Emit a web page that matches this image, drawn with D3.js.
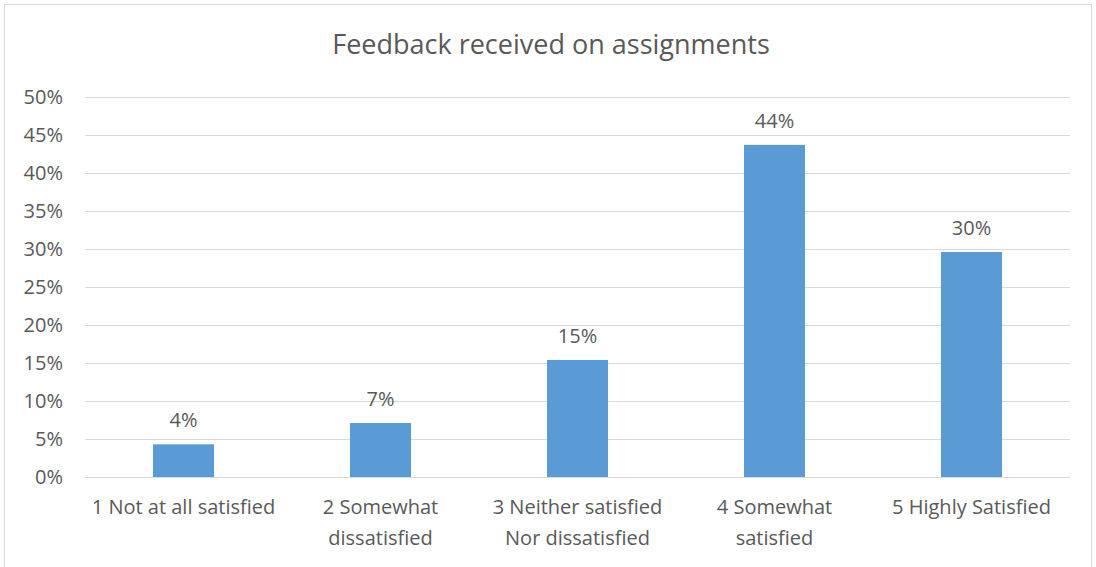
<!DOCTYPE html>
<html>
<head>
<meta charset="utf-8">
<script src="https://cdn.jsdelivr.net/npm/d3@7"></script>
<style>
  body { margin: 0; background: #fff; }
  svg text { font-family: "Open Sans", "Liberation Sans", sans-serif; fill: #595959; }
</style>
</head>
<body>
<div id="chart"></div>
<script>
var categories = ["1 Not at all satisfied", "2 Somewhat dissatisfied", "3 Neither satisfied Nor dissatisfied", "4 Somewhat satisfied", "5 Highly Satisfied"];
var categoryLines = [["1 Not at all satisfied"], ["2 Somewhat", "dissatisfied"], ["3 Neither satisfied", "Nor dissatisfied"], ["4 Somewhat", "satisfied"], ["5 Highly Satisfied"]];
var values = [0.043, 0.071, 0.154, 0.437, 0.296];
var yTicks = [0, 0.05, 0.10, 0.15, 0.20, 0.25, 0.30, 0.35, 0.40, 0.45, 0.50];
var title = "Feedback received on assignments";

var W = 1096, H = 567;
var margin = {top: 97, right: 26, bottom: 90, left: 85},
    width = W - margin.left - margin.right,
    height = H - margin.top - margin.bottom;

var svg = d3.select("#chart").append("svg")
    .attr("width", W)
    .attr("height", H);

// chart border
svg.append("rect")
    .attr("x", 4.5).attr("y", 4.5)
    .attr("width", W - 9).attr("height", H)
    .attr("fill", "none")
    .attr("stroke", "#d9d9d9");

svg.append("text")
    .attr("x", W / 2 + 3)
    .attr("y", 54)
    .attr("text-anchor", "middle")
    .style("font-size", "27px")
    .text(title);

var g = svg.append("g")
    .attr("transform", "translate(" + margin.left + "," + margin.top + ")");

var x = d3.scaleBand().domain(categories).range([0, width]).paddingInner(0.69).paddingOuter(0.345);
var y = d3.scaleLinear().domain([0, 0.5]).range([height, 0]);

// gridlines
g.append("g")
    .attr("class", "grid")
    .call(d3.axisLeft(y).tickValues(yTicks).tickSize(-width).tickFormat(""))
    .call(function(s) { s.select(".domain").remove(); })
    .selectAll("line")
    .attr("stroke", "#d9d9d9")
    .attr("stroke-width", 1.2);

// y labels
g.append("g")
    .call(d3.axisLeft(y).tickValues(yTicks).tickSize(0).tickPadding(22).tickFormat(d3.format(".0%")))
    .call(function(s) { s.select(".domain").remove(); })
    .selectAll("text")
    .style("font-size", "20px");

// bars
g.selectAll(".bar")
    .data(values)
  .enter().append("rect")
    .attr("class", "bar")
    .attr("x", function(d, i) { return x(categories[i]); })
    .attr("width", x.bandwidth())
    .attr("y", function(d) { return y(d); })
    .attr("height", function(d) { return height - y(d); })
    .attr("fill", "#5b9bd5");

// value labels
g.selectAll(".val")
    .data(values)
  .enter().append("text")
    .attr("class", "val")
    .attr("x", function(d, i) { return x(categories[i]) + x.bandwidth() / 2; })
    .attr("y", function(d) { return y(d) - 17; })
    .attr("text-anchor", "middle")
    .style("font-size", "20px")
    .text(function(d) { return d3.format(".0%")(d); });

// x axis
g.append("g")
    .attr("transform", "translate(0," + height + ")")
    .call(d3.axisBottom(x).tickSize(0).tickFormat(""))
    .call(function(s) { s.select(".domain").remove(); });

var xl = g.selectAll(".xlab")
    .data(categoryLines)
  .enter().append("text")
    .attr("class", "xlab")
    .attr("text-anchor", "middle")
    .attr("transform", function(d, i) { return "translate(" + (x(categories[i]) + x.bandwidth() / 2) + "," + (height + 37) + ")"; })
    .style("font-size", "20px");

xl.selectAll("tspan")
    .data(function(d) { return d; })
  .enter().append("tspan")
    .attr("x", 0)
    .attr("dy", function(d, i) { return i === 0 ? 0 : 31; })
    .text(function(d) { return d; });
</script>
</body>
</html>
